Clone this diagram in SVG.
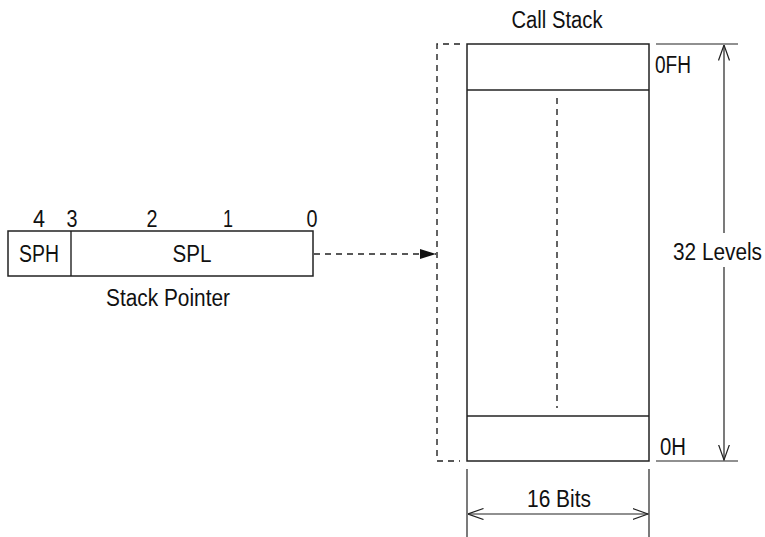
<svg xmlns="http://www.w3.org/2000/svg" width="765" height="537" viewBox="0 0 765 537">
  <style>
    .t { font-family: "Liberation Sans", Arial, sans-serif; font-size: 23px; fill: #111; }
    .box { fill: #fff; stroke: #222; stroke-width: 1.5; }
    .ln { fill: none; stroke: #222; stroke-width: 1.4; }
    .dim { fill: none; stroke: #222; stroke-width: 1.2; }
    .dash { fill: none; stroke: #222; stroke-width: 1.4; stroke-dasharray: 6 5; }
  </style>
  <defs>
    <marker id="fill-arrow" viewBox="0 0 16 10" refX="16" refY="5" markerWidth="16" markerHeight="10" markerUnits="userSpaceOnUse" orient="auto">
      <path d="M0,0 L16,5 L0,10 Z" fill="#111"/>
    </marker>
    <marker id="open-arrow" viewBox="0 0 16 12" refX="15.5" refY="6" markerWidth="16" markerHeight="12" markerUnits="userSpaceOnUse" orient="auto-start-reverse">
      <path d="M0,0.5 L15.5,6 L0,11.5" fill="none" stroke="#222" stroke-width="1.2"/>
    </marker>
  </defs>

  <!-- Stack pointer register -->
  <g id="stack-pointer">
    <rect class="box" x="8" y="231" width="305" height="45"/>
    <line class="ln" x1="71" y1="231" x2="71" y2="276"/>
    <text class="t" x="39" y="262" text-anchor="middle" textLength="40" lengthAdjust="spacingAndGlyphs">SPH</text>
    <text class="t" x="192" y="262" text-anchor="middle" textLength="39" lengthAdjust="spacingAndGlyphs">SPL</text>
    <text class="t" x="39" y="227" text-anchor="middle" textLength="12" lengthAdjust="spacingAndGlyphs">4</text>
    <text class="t" x="72" y="227" text-anchor="middle" textLength="11" lengthAdjust="spacingAndGlyphs">3</text>
    <text class="t" x="152" y="227" text-anchor="middle" textLength="11" lengthAdjust="spacingAndGlyphs">2</text>
    <text class="t" x="228" y="227" text-anchor="middle" textLength="10" lengthAdjust="spacingAndGlyphs">1</text>
    <text class="t" x="312" y="227" text-anchor="middle" textLength="11" lengthAdjust="spacingAndGlyphs">0</text>
    <text class="t" x="168" y="306" text-anchor="middle" textLength="124" lengthAdjust="spacingAndGlyphs">Stack Pointer</text>
  </g>

  <!-- Call stack -->
  <g id="call-stack">
    <text class="t" x="557" y="28" text-anchor="middle" textLength="91" lengthAdjust="spacingAndGlyphs">Call Stack</text>
    <rect class="box" x="467" y="44" width="182" height="417"/>
    <line class="ln" x1="467" y1="90" x2="649" y2="90"/>
    <line class="ln" x1="467" y1="416" x2="649" y2="416"/>
    <line class="dash" x1="557" y1="98" x2="557" y2="408" stroke-width="1"/>
    <text class="t" x="655" y="73" textLength="36" lengthAdjust="spacingAndGlyphs">0FH</text>
    <text class="t" x="660" y="455" textLength="26" lengthAdjust="spacingAndGlyphs">0H</text>
  </g>

  <!-- Dimensions -->
  <g id="dimensions">
    <line class="dim" x1="656" y1="44" x2="738" y2="44"/>
    <line class="dim" x1="656" y1="461" x2="738" y2="461"/>
    <line class="dim" x1="724" y1="233" x2="724" y2="45" marker-end="url(#open-arrow)"/>
    <line class="dim" x1="724" y1="267" x2="724" y2="460" marker-end="url(#open-arrow)"/>
    <text class="t" x="673" y="260" textLength="89" lengthAdjust="spacingAndGlyphs">32 Levels</text>
    <line class="dim" x1="467" y1="469" x2="467" y2="537"/>
    <line class="dim" x1="649" y1="469" x2="649" y2="537"/>
    <line class="dim" x1="468" y1="514" x2="648" y2="514" marker-start="url(#open-arrow)" marker-end="url(#open-arrow)"/>
    <text class="t" x="559" y="507" text-anchor="middle" textLength="64" lengthAdjust="spacingAndGlyphs">16 Bits</text>
  </g>

  <!-- Connectors -->
  <g id="connectors">
    <polyline class="dash" points="460,44 437,44 437,461 460,461"/>
    <line class="dash" x1="314" y1="254" x2="436" y2="254" marker-end="url(#fill-arrow)"/>
  </g>
</svg>
